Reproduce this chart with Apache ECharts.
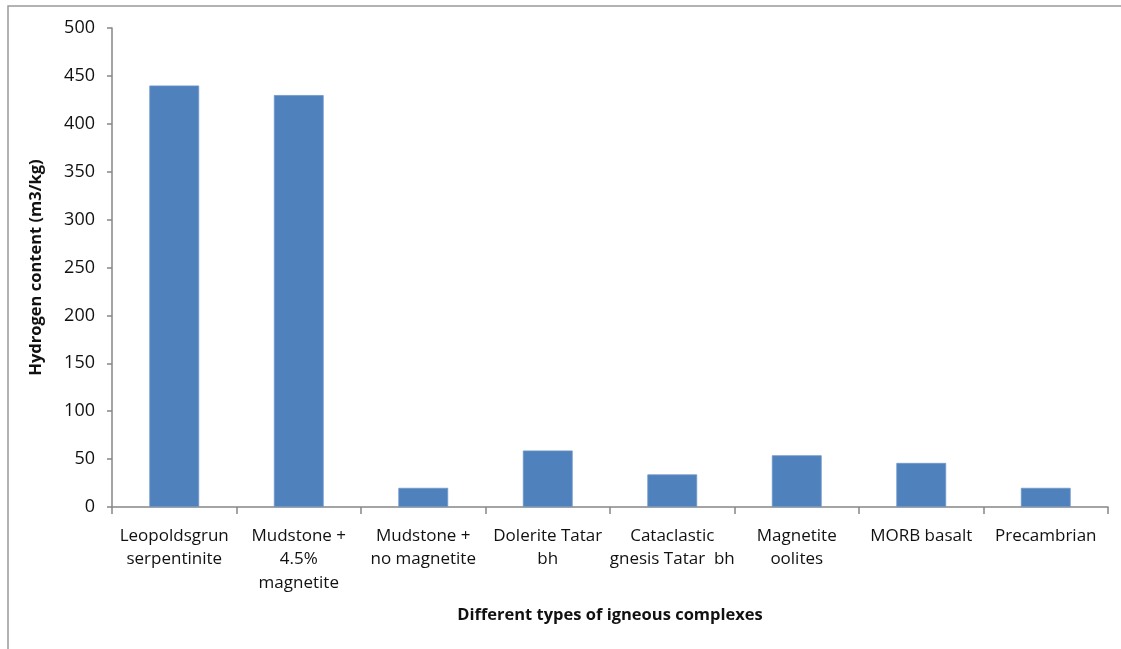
<!DOCTYPE html>
<html>
<head>
<meta charset="utf-8">
<script src="https://cdn.jsdelivr.net/npm/echarts@6/dist/echarts.min.js"></script>
<style>
html,body{margin:0;padding:0;background:#fff;}
#chart{width:1121px;height:649px;}
</style>
</head>
<body>
<div id="chart"></div>
<script>
const categories = [
  "Leopoldsgrun\nserpentinite",
  "Mudstone +\n4.5%\nmagnetite",
  "Mudstone +\nno magnetite",
  "Dolerite Tatar\nbh",
  "Cataclastic\ngnesis Tatar  bh",
  "Magnetite\noolites",
  "MORB basalt",
  "Precambrian"
];
const hydrogenValues = [440, 430, 20, 59, 34, 54, 46, 20];
const yTicks = { min: 0, max: 500, interval: 50 };
const xTitle = "Different types of igneous complexes";
const yTitle = "Hydrogen content (m3/kg)";

const chart = echarts.init(document.getElementById('chart'));
const FONT = "Open Sans";
chart.setOption({
  animation: false,
  backgroundColor: '#ffffff',
  graphic: [{
    type: 'rect',
    shape: { x: 8, y: 6, width: 1300, height: 800 },
    style: { fill: 'none', stroke: '#9a9a9a', lineWidth: 1.5 },
    silent: true
  }],
  grid: { left: 112, right: 13, top: 28, bottom: 142, containLabel: false },
  xAxis: {
    type: 'category',
    data: categories,
    name: xTitle,
    nameLocation: 'middle',
    nameGap: 100,
    nameTextStyle: { fontFamily: FONT, fontWeight: 'bold', fontSize: 16.5, color: '#111' },
    axisLine: { lineStyle: { color: '#868686', width: 1.5 } },
    axisTick: { show: true, length: 7, lineStyle: { color: '#868686', width: 1.5 } },
    axisLabel: { interval: 0, margin: 17, fontFamily: FONT, fontSize: 17, lineHeight: 23.5, color: '#111', align: 'center' }
  },
  yAxis: {
    type: 'value',
    min: yTicks.min, max: yTicks.max, interval: yTicks.interval,
    name: yTitle,
    nameLocation: 'middle',
    nameGap: 67,
    nameRotate: 90,
    nameTextStyle: { fontFamily: FONT, fontWeight: 'bold', fontSize: 16.5, color: '#111' },
    splitLine: { show: false },
    axisLine: { show: true, lineStyle: { color: '#868686', width: 1.5 } },
    axisTick: { show: true, length: 5, lineStyle: { color: '#868686', width: 1.5 } },
    axisLabel: { margin: 17, fontFamily: FONT, fontSize: 18, color: '#111' }
  },
  series: [{
    type: 'bar',
    data: hydrogenValues,
    barWidth: '40%',
    itemStyle: { color: '#4F81BD', borderColor: '#6f97c9', borderWidth: 0.8 }
  }]
});
</script>
</body>
</html>
